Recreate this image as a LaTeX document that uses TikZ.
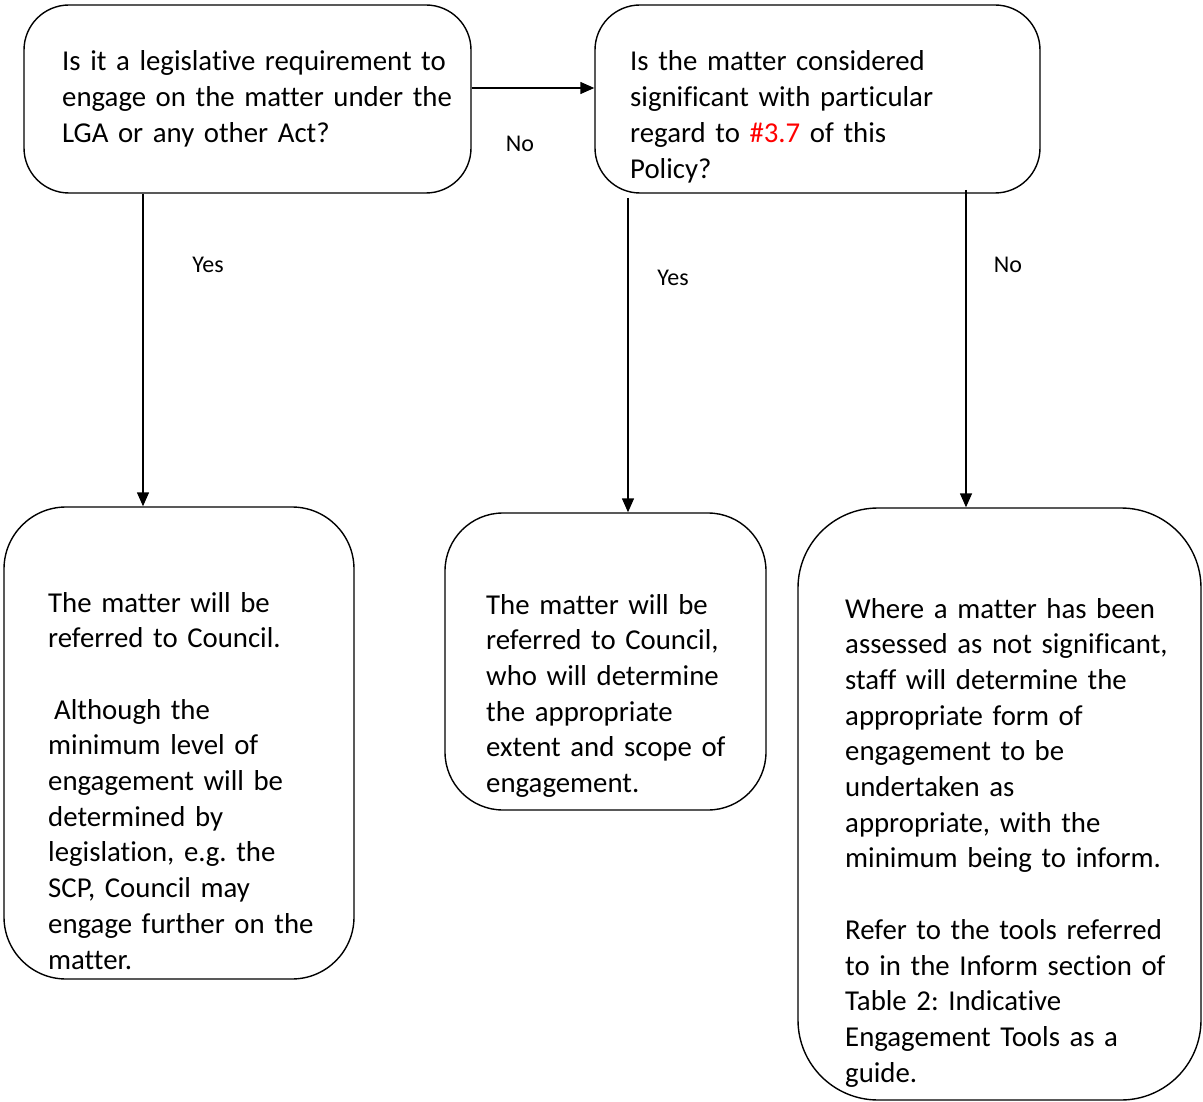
\documentclass[tikz,border=0pt]{standalone}
\usepackage{fontspec}
\setmainfont{Carlito}[WordSpace=0.6, Ligatures=NoCommon]
\frenchspacing
\usetikzlibrary{arrows.meta}
\begin{document}
\begin{tikzpicture}[x=1pt,y=-1pt,
  box/.style={draw, line width=1.4pt, rectangle, inner sep=0pt},
  txt/.style={anchor=base west, inner sep=0pt, text width=400pt, align=left,
    font=\fontsize{28.8pt}{35.7pt}\selectfont},
  lbl/.style={inner sep=0pt, font=\fontsize{24pt}{29pt}\selectfont},
  arr/.style={line width=1.4pt, -{Triangle[length=14pt,width=12pt]}}]
\useasboundingbox (0,0) rectangle (1203,1102);
% boxes
\node[box, rounded corners=45pt, minimum width=447pt, minimum height=188pt] (q1) at (247.5,99) {};
\node[box, rounded corners=45pt, minimum width=445pt, minimum height=188pt] (q2) at (817.5,99) {};
\node[box, rounded corners=62pt, minimum width=350pt, minimum height=472pt] (r1) at (179,743) {};
\node[box, rounded corners=58pt, minimum width=321pt, minimum height=297pt] (r2) at (605.5,661.5) {};
\node[box, rounded corners=80pt, minimum width=403pt, minimum height=592pt] (r3) at (999.5,804) {};
% texts
\node[txt] (t1) at (62,71) {Is it a legislative requirement to\\engage on the matter under the\\LGA or any other Act?};
\node[txt] (t2) at (630,71) {Is the matter considered\\significant with particular\\regard to \textcolor{red}{\#3.7} of this\\Policy?};
\node[txt] (t4) at (48,612) {The matter will be\\referred to Council.\\[35.7pt]\hspace*{6pt}Although the\\minimum level of\\engagement will be\\determined by\\legislation, e.g. the\\SCP, Council may\\engage further on the\\matter.};
\node[txt] (t5) at (486,614) {The matter will be\\referred to Council,\\who will determine\\the appropriate\\extent and scope of\\engagement.};
\node[txt] (t6) at (845,618) {Where a matter has been\\assessed as not significant,\\staff will determine the\\appropriate form of\\engagement to be\\undertaken as\\appropriate, with the\\minimum being to inform.\\[35.7pt]Refer to the tools referred\\to in the Inform section of\\Table 2: Indicative\\Engagement Tools as a\\guide.};
% helper coordinates
\coordinate (a1) at (143,0);
\coordinate (a2) at (628,0);
\coordinate (a3) at (966,0);
\coordinate (s2) at (628,198);
\coordinate (s3) at (966,190);
% connectors
\draw[arr] ([yshift=11pt]q1.east) -- ([yshift=11pt]q2.west);
\draw[arr] (q1.south -| a1) -- (r1.north -| a1);
\draw[arr] (s2) -- (r2.north -| a2);
\draw[arr] (s3) -- (r3.north -| a3);
% labels
\node[lbl] (l1) at (520,144) {No};
\node[lbl] (l2) at (208,265) {Yes};
\node[lbl] (l3) at (673,278) {Yes};
\node[lbl] (l4) at (1008,265) {No};
\end{tikzpicture}
\end{document}
